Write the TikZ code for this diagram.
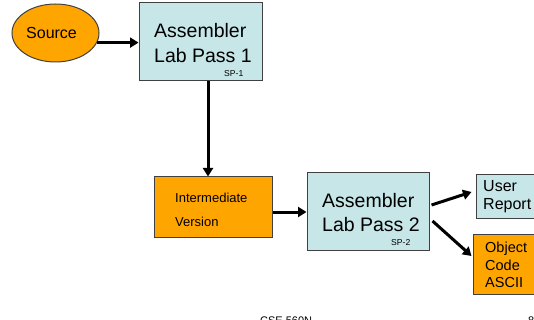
\documentclass[tikz,border=0pt]{standalone}
\usepackage{fontspec}
\setmainfont{Liberation Sans}
\usetikzlibrary{arrows.meta,shapes.geometric}
\definecolor{dataorange}{RGB}{255,165,0}
\definecolor{passblue}{RGB}{198,230,232}
\definecolor{edgegray}{RGB}{64,64,64}

\begin{document}
\begin{tikzpicture}[x=1pt,y=-1pt,
  passbox/.style={draw=edgegray, line width=1pt, fill=passblue, inner sep=0pt},
  databox/.style={draw=edgegray, line width=1pt, fill=dataorange, inner sep=0pt},
  flow/.style={line width=3pt, -{Triangle[length=8.5pt,width=10pt]}},
  txt/.style={anchor=base west, inner sep=0pt, text=black},
  big/.style={txt, font=\fontsize{19.5}{23}\selectfont},
  mid/.style={txt, font=\fontsize{16}{19}\selectfont},
  small/.style={txt, font=\fontsize{14.5}{17}\selectfont},
  tiny/.style={txt, font=\fontsize{8.6}{10}\selectfont},
  footer/.style={txt, font=\fontsize{11}{13}\selectfont},
]
\useasboundingbox (0,0) rectangle (534,320);
\clip (0,0) rectangle (534,320);

% shapes
\node[ellipse, databox, minimum width=87pt, minimum height=58pt] (src) at (55.5,33) {};
\node[passbox, minimum width=123pt, minimum height=78pt] (p1) at (200.5,42) {};
\node[databox, minimum width=118pt, minimum height=60pt] (imd) at (213,207) {};
\node[passbox, minimum width=122pt, minimum height=77pt] (p2) at (368,211.5) {};
\node[passbox, minimum width=64pt, minimum height=43pt] (ur) at (508,196.5) {};
\node[databox, minimum width=67pt, minimum height=60pt] (obj) at (506.5,264) {};

% texts
\node[mid] (srcT) at (26,39) {Source};
\node[big] (p1a) at (154,38) {Assembler};
\node[big] (p1b) at (154,63) {Lab Pass 1};
\node[tiny] (p1c) at (224,77) {SP-1};
\node[txt, font=\fontsize{13}{15}\selectfont] (imda) at (175,202) {Intermediate};
\node[txt, font=\fontsize{13}{15}\selectfont] (imdb) at (175,226) {Version};
\node[big] (p2a) at (322,207) {Assembler};
\node[big] (p2b) at (322,231) {Lab Pass 2};
\node[tiny] (p2c) at (391,245) {SP-2};
\node[mid] (ura) at (483,191) {User};
\node[mid] (urb) at (483,209) {Report};
\node[small] (obja) at (485,252) {Object};
\node[small] (objb) at (485,270) {Code};
\node[small] (objc) at (485,287) {ASCII};
\node[footer] (foot) at (260,324) {CSE 560N};
\node[footer] (page) at (528,324) {8};

% connectors
\draw[flow] (src.-13) -- (src.-13 -| p1.west);
\draw[flow] ([xshift=7.5pt]p1.south) -- ([xshift=7.5pt]p1.south |- imd.north);
\draw[flow] ([yshift=-5pt]imd.east) -- ([yshift=-5pt]imd.east -| p2.west);
\draw[flow] ([shift={(2,-6.5)}]p2.east) -- ([shift={(-4,-4.5)}]ur.west);
\draw[flow] ([shift={(3,9.5)}]p2.east) -- ([shift={(-1,-8)}]obj.west);
\end{tikzpicture}
\end{document}
